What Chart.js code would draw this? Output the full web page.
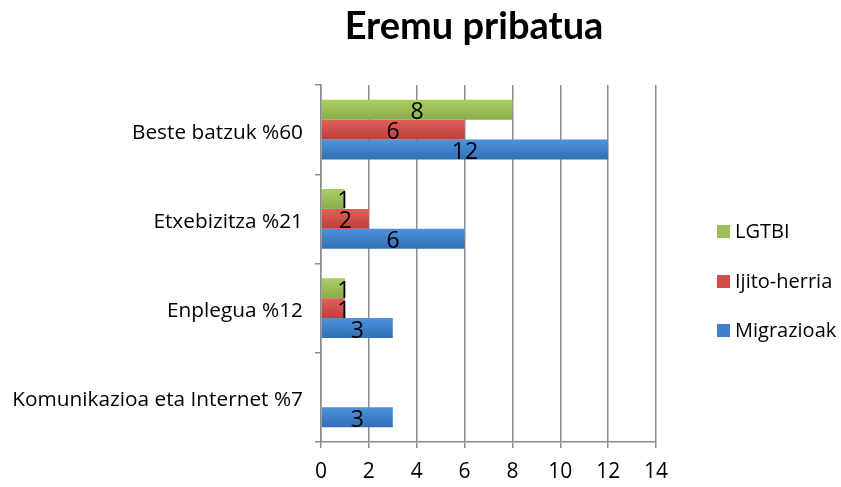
<!DOCTYPE html>
<html><head><meta charset="utf-8">
<script src="https://cdn.jsdelivr.net/npm/chart.js@4"></script>
<style>html,body{margin:0;padding:0;background:#fff}#w{width:841px;height:487px}</style>
</head><body><div id="w"><canvas id="c"></canvas></div>
<script>
const categories = ["Beste batzuk %60", "Etxebizitza %21", "Enplegua %12", "Komunikazioa eta Internet %7"];
const lgtbi = [8, 1, 1, 0];
const ijito = [6, 2, 1, 0];
const migrazioak = [12, 6, 3, 3];
const seriesNames = ["LGTBI", "Ijito-herria", "Migrazioak"];
const xTicks = [0, 2, 4, 6, 8, 10, 12, 14];
const colors = ["#9cc15a", "#d24c48", "#3f80c9"];
const gradStops = [["#a9d062", "#8aad4c"], ["#e2605a", "#bd3f3b"], ["#4c93dc", "#336fb5"]];
const FONT = "'Open Sans', sans-serif";
const CAT_PCT = 0.67;

function barGradient(c) {
  const chart = c.chart;
  const ys = chart.scales && chart.scales.y;
  const di = c.datasetIndex;
  if (!ys || ys.height == null || c.dataIndex == null) return colors[di];
  const n = chart.data.datasets.length;
  const band = ys.height / chart.data.labels.length;
  const th = band * CAT_PCT / n;
  const center = ys.getPixelForValue(c.dataIndex) + (di - (n - 1) / 2) * th;
  const g = chart.ctx.createLinearGradient(0, center - th / 2, 0, center + th / 2);
  g.addColorStop(0, gradStops[di][0]);
  g.addColorStop(1, gradStops[di][1]);
  return g;
}

const titlePlugin = {
  id: 'ttl',
  afterDraw(chart) {
    const ctx = chart.ctx;
    ctx.save();
    ctx.fillStyle = '#000';
    ctx.font = "bold 38px Lato, sans-serif";
    ctx.textAlign = 'center';
    ctx.textBaseline = 'middle';
    ctx.fillText("Eremu pribatua", 474, 27);
    ctx.font = "20px " + FONT;
    ctx.textAlign = 'left';
    const ys = [231, 281, 330];
    chart.data.datasets.forEach((ds, i) => {
      ctx.fillStyle = colors[i];
      ctx.fillRect(717, ys[i] - 6, 13, 13);
      ctx.fillStyle = '#000';
      ctx.fillText(ds.label, 735, ys[i] + 1);
    });
    ctx.restore();
  }
};

const labelPlugin = {
  id: 'vals',
  afterDatasetsDraw(chart) {
    const ctx = chart.ctx;
    ctx.save();
    ctx.font = "23px " + FONT;
    ctx.fillStyle = '#000';
    ctx.textAlign = 'center';
    ctx.textBaseline = 'middle';
    chart.data.datasets.forEach((ds, di) => {
      const meta = chart.getDatasetMeta(di);
      meta.data.forEach((bar, i) => {
        const v = ds.data[i];
        if (!v) return;
        let x = (bar.x + bar.base) / 2;
        x = Math.max(x, bar.base + 22);
        ctx.fillText(String(v), x, bar.y + 3);
      });
    });
    ctx.restore();
  }
};

new Chart(document.getElementById('c'), {
  type: 'bar',
  data: {
    labels: categories,
    datasets: [
      { label: seriesNames[0], data: lgtbi, backgroundColor: barGradient },
      { label: seriesNames[1], data: ijito, backgroundColor: barGradient },
      { label: seriesNames[2], data: migrazioak, backgroundColor: barGradient }
    ]
  },
  options: {
    indexAxis: 'y',
    responsive: true,
    maintainAspectRatio: false,
    animation: false,
    layout: { padding: { top: 85, right: 185, left: 0, bottom: 0 } },
    datasets: { bar: { categoryPercentage: CAT_PCT, barPercentage: 1, borderWidth: 0 } },
    plugins: { legend: { display: false }, tooltip: { enabled: false } },
    scales: {
      x: {
        min: 0, max: 14,
        afterBuildTicks: s => { s.ticks = xTicks.map(v => ({ value: v })); },
        ticks: { color: '#000', font: { family: FONT, size: 21 }, padding: 11 },
        grid: { color: '#8c8c8c', lineWidth: 1.5, tickLength: 6, drawTicks: true },
        border: { color: '#8c8c8c', width: 1.5 },
        afterFit: s => { s.height = 45; }
      },
      y: {
        ticks: { color: '#000', font: { family: FONT, size: 20.8 }, padding: 12, labelOffset: 3 },
        grid: { offset: true, drawOnChartArea: false, drawTicks: true, tickLength: 6, color: '#8c8c8c', lineWidth: 1.5 },
        border: { color: '#8c8c8c', width: 1.5 },
        afterFit: s => { s.width = 321; }
      }
    }
  },
  plugins: [titlePlugin, labelPlugin]
});
</script></body></html>
